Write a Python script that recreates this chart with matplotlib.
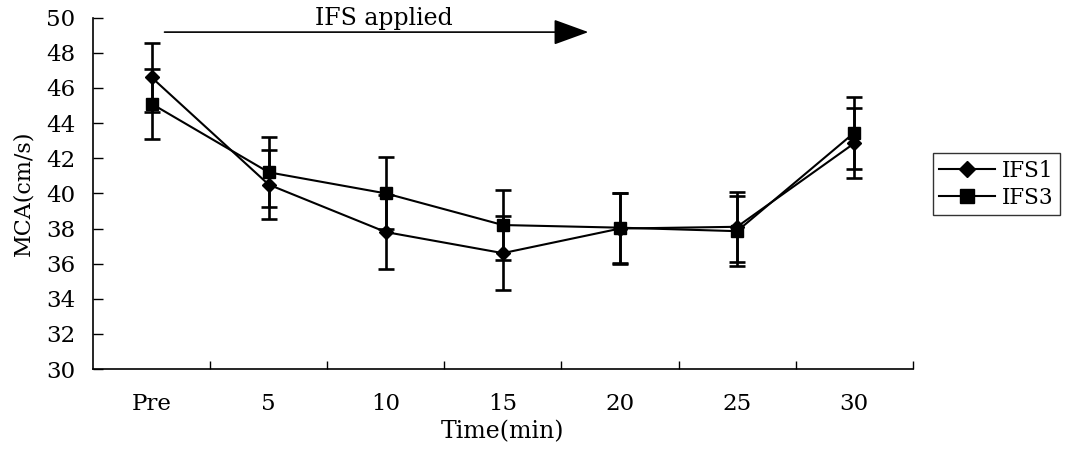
import numpy as np
import matplotlib
matplotlib.use("Agg")
import matplotlib.pyplot as plt
from matplotlib.lines import Line2D

# values
time_labels = ["Pre", "5", "10", "15", "20", "25", "30"]
ifs1_mean = [46.6, 40.5, 37.8, 36.6, 38.0, 38.1, 42.85]
ifs1_err = [1.95, 1.95, 2.1, 2.1, 2.0, 2.0, 2.0]
ifs3_mean = [45.1, 41.2, 40.0, 38.2, 38.05, 37.85, 43.45]
ifs3_err = [2.0, 2.0, 2.05, 2.0, 2.0, 2.0, 2.05]
y_ticks = [30, 32, 34, 36, 38, 40, 42, 44, 46, 48, 50]

plt.rcParams["font.family"] = ["DejaVu Serif"]

fig = plt.figure(figsize=(10.7, 4.54), dpi=100)
ax = fig.add_axes([0.087, 0.187, 0.766, 0.774])

x = np.arange(len(time_labels))
err_kw = dict(ecolor="black", elinewidth=1.9, capsize=5.5, capthick=1.9)

ax.errorbar(x, ifs1_mean, yerr=ifs1_err, color="black", lw=1.5,
            marker="D", markersize=7.5, **err_kw)
ax.errorbar(x, ifs3_mean, yerr=ifs3_err, color="black", lw=1.5,
            marker="s", markersize=9, **err_kw)

ax.set_xlim(-0.5, len(time_labels) - 0.5)
ax.set_ylim(30, 50)
ax.set_yticks(y_ticks)
ax.tick_params(axis="y", direction="in", length=7, width=1, labelsize=16.5, pad=13)

# category ticks sit between the groups, labels centred on the groups
ax.set_xticks(np.arange(0.5, len(time_labels)), minor=False)
ax.set_xticklabels([])
ax.set_xticks(x, minor=True)
ax.set_xticklabels(time_labels, minor=True)
ax.tick_params(axis="x", which="major", direction="in", length=6, width=1)
ax.tick_params(axis="x", which="minor", length=0, labelsize=16.5, pad=17)

for s in ["top", "right"]:
    ax.spines[s].set_visible(False)
for s in ["left", "bottom"]:
    ax.spines[s].set_linewidth(1.2)

ax.set_xlabel("Time(min)", fontsize=17, labelpad=4)
ax.set_ylabel("MCA(cm/s)", fontsize=16, labelpad=8)

# "IFS applied" arrow
ax.annotate("", xy=(3.73, 49.18), xytext=(0.11, 49.18),
            arrowprops=dict(arrowstyle="-|>,head_length=2.2,head_width=0.8",
                            color="black", lw=1.2, shrinkA=0, shrinkB=0),
            annotation_clip=False)
ax.text(1.98, 49.3, "IFS applied", ha="center", va="bottom", fontsize=17,
        clip_on=False)

handles = [
    Line2D([], [], color="black", lw=1.5, marker="D", markersize=8),
    Line2D([], [], color="black", lw=1.5, marker="s", markersize=9.5),
]
leg = fig.legend(handles, ["IFS1", "IFS3"], loc="center left",
                 bbox_to_anchor=(0.872, 0.594), fontsize=15.5,
                 frameon=True, fancybox=False, edgecolor="black",
                 handlelength=2.6, handletextpad=0.3, borderpad=0.3,
                 labelspacing=0.25, borderaxespad=0)
leg.get_frame().set_linewidth(1.0)

fig.savefig("out.png", dpi=100)
